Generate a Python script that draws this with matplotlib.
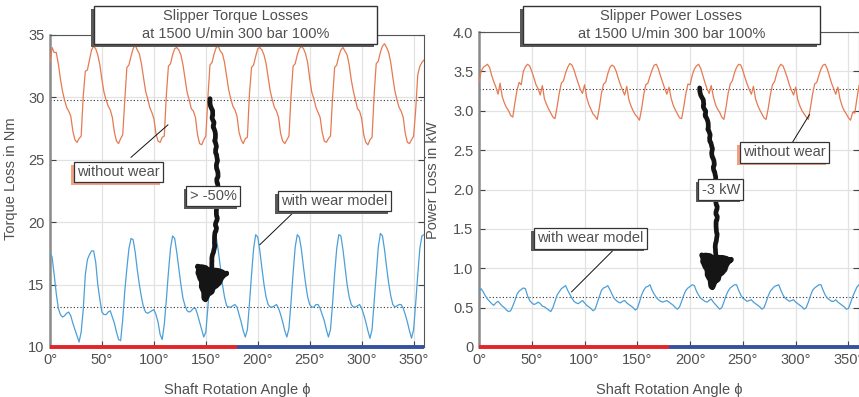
import numpy as np
import matplotlib.pyplot as plt
import matplotlib.patheffects as pe
from matplotlib.patches import Rectangle, FancyArrowPatch

plt.rcParams['font.family'] = ['Liberation Sans', 'DejaVu Sans']

# shaft angle in degrees, one sample every 2 deg
angle = np.arange(0, 361, 2)

torque_without_wear = [
    32.8, 34.0, 33.6, 33.6, 32.7, 31.5, 30.5, 29.8, 29.2, 28.9, 28.5, 27.3, 26.6, 26.4, 26.7, 26.9, 30.1, 32.1, 32.2, 33.0,
    33.8, 34.1, 33.9, 33.4, 32.6, 31.4, 30.4, 29.8, 29.3, 29.0, 28.4, 27.2, 26.5, 26.3, 26.7, 27.0, 29.8, 32.4, 32.6, 33.3,
    33.9, 34.2, 33.8, 33.5, 32.7, 31.6, 30.5, 29.9, 29.2, 28.8, 28.3, 27.1, 26.5, 26.4, 26.8, 26.9, 30.2, 32.5, 32.7, 33.4,
    33.9, 34.0, 33.8, 33.4, 32.6, 31.5, 30.4, 29.8, 29.1, 28.9, 28.4, 27.0, 26.3, 26.2, 26.6, 26.9, 30.0, 32.6, 32.8, 33.5,
    34.0, 34.1, 33.7, 33.5, 32.8, 31.7, 30.6, 29.9, 29.3, 29.0, 28.5, 27.2, 26.6, 26.3, 26.7, 26.8, 30.3, 32.4, 32.6, 33.3,
    33.9, 34.0, 33.8, 33.4, 32.7, 31.6, 30.5, 29.8, 29.2, 28.9, 28.4, 27.1, 26.5, 26.3, 26.6, 26.9, 30.1, 32.5, 32.7, 33.4,
    33.9, 34.1, 33.9, 33.5, 32.8, 31.5, 30.4, 29.9, 29.2, 28.8, 28.4, 27.2, 26.5, 26.4, 26.7, 26.9, 30.0, 32.4, 32.6, 33.3,
    33.8, 34.0, 33.7, 33.4, 32.6, 31.4, 30.5, 29.8, 29.1, 28.9, 28.3, 27.0, 26.4, 26.2, 26.6, 26.8, 30.2, 32.7, 32.9, 33.6,
    34.1, 34.3, 34.0, 33.6, 32.8, 31.6, 30.5, 29.8, 29.2, 28.9, 28.4, 27.1, 26.4, 26.3, 26.6, 26.9, 29.0, 31.8, 32.5, 32.8,
    33.0]

torque_with_wear = [
    17.6, 17.2, 15.8, 14.3, 13.1, 12.6, 12.4, 12.5, 12.7, 12.8, 12.5, 11.9, 11.4, 10.9, 10.4, 11.2, 13.0, 15.8, 17.0, 17.4,
    17.7, 17.7, 16.8, 15.0, 13.8, 12.8, 12.6, 12.6, 12.8, 12.9, 12.4, 11.9, 11.2, 10.6, 10.5, 12.2, 14.5, 16.3, 17.9, 18.7,
    18.6, 17.6, 16.2, 15.0, 14.0, 13.2, 12.8, 12.7, 12.8, 12.9, 13.0, 12.6, 12.0, 11.0, 10.6, 11.8, 13.8, 16.0, 17.9, 18.9,
    18.7, 17.6, 16.3, 15.0, 13.9, 13.3, 12.9, 12.8, 12.9, 13.1, 13.1, 12.6, 12.0, 11.4, 10.8, 11.2, 13.2, 15.6, 17.6, 19.0,
    18.8, 17.7, 16.4, 15.0, 14.0, 13.3, 13.2, 13.2, 13.3, 13.4, 13.2, 12.6, 12.0, 11.3, 10.8, 11.4, 13.5, 15.8, 17.9, 19.0,
    18.8, 17.7, 16.3, 15.0, 14.0, 13.4, 13.2, 13.2, 13.3, 13.4, 13.1, 12.6, 12.0, 11.3, 10.8, 11.5, 13.6, 15.9, 18.0, 19.0,
    18.8, 17.8, 16.4, 15.1, 14.0, 13.4, 13.2, 13.2, 13.4, 13.4, 13.1, 12.6, 12.1, 11.4, 10.8, 11.4, 13.5, 15.9, 17.9, 19.0,
    18.9, 17.8, 16.4, 15.0, 14.0, 13.4, 13.2, 13.2, 13.3, 13.4, 13.1, 12.6, 12.0, 11.3, 10.7, 11.4, 13.6, 15.9, 18.0, 19.1,
    18.9, 17.8, 16.4, 15.1, 14.1, 13.4, 13.2, 13.3, 13.4, 13.4, 13.1, 12.6, 12.0, 11.3, 10.7, 11.4, 13.5, 15.8, 17.9, 18.9,
    19.0]

power_without_wear = [
    3.37, 3.50, 3.55, 3.57, 3.59, 3.55, 3.45, 3.37, 3.30, 3.21, 3.35, 3.18, 3.10, 3.04, 3.00, 2.94, 2.92, 3.10, 3.26, 3.36,
    3.33, 3.50, 3.56, 3.59, 3.57, 3.50, 3.42, 3.33, 3.28, 3.20, 3.32, 3.15, 3.08, 3.02, 2.97, 2.92, 2.90, 3.05, 3.22, 3.35,
    3.38, 3.48, 3.55, 3.60, 3.58, 3.52, 3.43, 3.35, 3.27, 3.22, 3.33, 3.17, 3.08, 3.02, 2.96, 2.93, 2.89, 3.04, 3.22, 3.34,
    3.36, 3.47, 3.55, 3.58, 3.56, 3.50, 3.41, 3.33, 3.26, 3.20, 3.31, 3.14, 3.06, 3.00, 2.95, 2.92, 2.88, 3.02, 3.20, 3.33,
    3.35, 3.44, 3.52, 3.58, 3.59, 3.53, 3.44, 3.36, 3.28, 3.21, 3.30, 3.16, 3.07, 3.01, 2.96, 2.91, 2.90, 3.05, 3.22, 3.34,
    3.33, 3.45, 3.53, 3.57, 3.59, 3.54, 3.45, 3.36, 3.28, 3.22, 3.32, 3.18, 3.08, 3.02, 2.98, 2.92, 2.89, 3.04, 3.22, 3.34,
    3.38, 3.48, 3.55, 3.59, 3.58, 3.51, 3.42, 3.34, 3.27, 3.21, 3.31, 3.15, 3.07, 3.01, 2.96, 2.91, 2.89, 3.03, 3.20, 3.33,
    3.37, 3.47, 3.55, 3.59, 3.57, 3.50, 3.42, 3.33, 3.26, 3.20, 3.30, 3.14, 3.06, 3.00, 2.96, 2.92, 2.89, 3.04, 3.21, 3.34,
    3.36, 3.45, 3.53, 3.58, 3.59, 3.53, 3.44, 3.35, 3.28, 3.21, 3.30, 3.15, 3.06, 3.00, 2.96, 2.91, 2.88, 2.98, 2.97, 3.15,
    3.32]

power_with_wear = [
    0.71, 0.74, 0.70, 0.65, 0.61, 0.58, 0.55, 0.53, 0.56, 0.58, 0.55, 0.52, 0.50, 0.47, 0.45, 0.46, 0.52, 0.59, 0.67, 0.71,
    0.73, 0.75, 0.74, 0.65, 0.59, 0.56, 0.54, 0.55, 0.57, 0.55, 0.52, 0.51, 0.49, 0.47, 0.45, 0.50, 0.58, 0.66, 0.70, 0.74,
    0.76, 0.78, 0.72, 0.67, 0.62, 0.58, 0.56, 0.55, 0.57, 0.59, 0.56, 0.53, 0.51, 0.49, 0.46, 0.48, 0.56, 0.64, 0.72, 0.75,
    0.76, 0.78, 0.73, 0.67, 0.62, 0.59, 0.57, 0.56, 0.58, 0.59, 0.56, 0.54, 0.52, 0.50, 0.47, 0.49, 0.57, 0.66, 0.72, 0.76,
    0.77, 0.79, 0.72, 0.67, 0.63, 0.60, 0.58, 0.57, 0.58, 0.59, 0.57, 0.55, 0.53, 0.50, 0.48, 0.51, 0.58, 0.66, 0.72, 0.75,
    0.77, 0.79, 0.78, 0.71, 0.66, 0.62, 0.60, 0.58, 0.57, 0.59, 0.61, 0.57, 0.54, 0.51, 0.48, 0.50, 0.57, 0.65, 0.71, 0.75,
    0.77, 0.79, 0.79, 0.72, 0.66, 0.62, 0.60, 0.58, 0.59, 0.60, 0.57, 0.55, 0.53, 0.51, 0.48, 0.50, 0.57, 0.65, 0.71, 0.74,
    0.77, 0.78, 0.79, 0.72, 0.66, 0.62, 0.60, 0.58, 0.59, 0.60, 0.57, 0.55, 0.53, 0.51, 0.48, 0.50, 0.57, 0.65, 0.72, 0.75,
    0.77, 0.79, 0.79, 0.72, 0.66, 0.62, 0.60, 0.58, 0.58, 0.60, 0.57, 0.55, 0.53, 0.51, 0.48, 0.49, 0.56, 0.64, 0.70, 0.76,
    0.79]

# dotted average levels
torque_mean_without = 29.8
torque_mean_with = 13.2
power_mean_without = 3.28
power_mean_with = 0.64

x_ticks = [0, 50, 100, 150, 200, 250, 300, 350]
torque_ticks = [10, 15, 20, 25, 30, 35]
power_ticks = [0, 0.5, 1.0, 1.5, 2.0, 2.5, 3.0, 3.5, 4.0]

c_orange = '#e67a52'
c_blue = '#4d9fd8'
c_red = '#e32428'
c_navy = '#3452a0'
c_text = '#505050'
c_shadow = '#5a5a5a'
c_orange_shadow = '#f2a184'

fig = plt.figure(figsize=(8.59, 3.97), dpi=100)
ax1 = fig.add_axes([50/859, 50/397, 374/859, 312/397])
ax2 = fig.add_axes([479/859, 50/397, 380/859, 315/397])


def style_axes(ax, yticks, ylim, ylabel, ylab_pos, fmt):
    ax.set_xlim(0, 360)
    ax.set_ylim(*ylim)
    ax.set_xticks(x_ticks)
    ax.set_xticklabels([f'{v}°' for v in x_ticks])
    ax.set_yticks(yticks)
    ax.set_yticklabels([fmt(v) for v in yticks])
    ax.grid(True, color='#e2e2e2', lw=0.9)
    ax.set_axisbelow(True)
    ax.tick_params(direction='in', length=4, width=0.8, colors='#444',
                   labelcolor=c_text, labelsize=10.5, right=True, pad=4)
    for s in ['top', 'right', 'bottom']:
        ax.spines[s].set_color('#555')
        ax.spines[s].set_linewidth(0.8)
    ax.spines['left'].set_color('#8a8a8a')
    ax.spines['left'].set_linewidth(1.8)
    ax.set_xlabel('Shaft Rotation Angle ϕ', fontsize=10.5, color=c_text, labelpad=12)
    ax.set_ylabel(ylabel, fontsize=10.5, color=c_text)
    ax.yaxis.set_label_coords(*ylab_pos)
    # red / blue half-turn bar on the x axis
    ax.plot([0, 180], [ylim[0], ylim[0]], color=c_red, lw=2.8, solid_capstyle='butt',
            clip_on=False, zorder=6)
    ax.plot([180, 360], [ylim[0], ylim[0]], color=c_navy, lw=2.8, solid_capstyle='butt',
            clip_on=False, zorder=6)


def label_box(ax, x, y, txt, shadow):
    t = ax.text(x, y, txt, ha='center', va='center', fontsize=10.5, color=c_text, zorder=8,
                bbox=dict(boxstyle='square,pad=0.22', fc='white', ec='#333', lw=0.9))
    t.get_bbox_patch().set_path_effects([
        pe.SimplePatchShadow(offset=(-2, -2), shadow_rgbFace=shadow, alpha=1), pe.Normal()])
    return t


def leader(ax, p0, p1):
    ax.plot([p0[0], p1[0]], [p0[1], p1[1]], color='#111', lw=0.7, zorder=7)


def sketch_arrow(ax, start, end):
    arr = FancyArrowPatch(start, end, arrowstyle='-|>,head_length=2.2,head_width=1.1',
                          mutation_scale=10, connectionstyle='arc3,rad=-0.1',
                          lw=3.4, color='#151515', shrinkA=0, shrinkB=0, zorder=5)
    arr.set_sketch_params(scale=0.7, length=18, randomness=4)
    ax.add_patch(arr)


def title_box(x0, x1, txt):
    r = Rectangle((x0/859, 1-44/397), (x1-x0)/859, 38/397, transform=fig.transFigure,
                  fc='white', ec='#333', lw=1.0, zorder=10)
    r.set_path_effects([pe.SimplePatchShadow(offset=(-2.5, -2.5), shadow_rgbFace=c_shadow, alpha=1),
                        pe.Normal()])
    fig.patches.append(r)
    fig.text((x0+x1)/2/859, 1-25/397, txt, ha='center', va='center', fontsize=10.5,
             color=c_text, linespacing=1.3, zorder=11)


# torque panel
style_axes(ax1, torque_ticks, (10, 35), 'Torque Loss in Nm', (-0.086, 0.54), lambda v: f'{v}')
ax1.plot(angle, torque_without_wear, color=c_orange, lw=0.9, zorder=3)
ax1.plot(angle, torque_with_wear, color=c_blue, lw=0.9, zorder=3)
ax1.axhline(torque_mean_without, color='#333', lw=0.8, ls=(0, (1, 2)), zorder=2)
ax1.axhline(torque_mean_with, color='#333', lw=0.8, ls=(0, (1, 2)), zorder=2)
sketch_arrow(ax1, (154, 29.9), (148, 13.4))
leader(ax1, (78, 25.2), (113.5, 27.8))
label_box(ax1, 65.5, 24.0, 'without wear', c_orange_shadow)
label_box(ax1, 157, 22.1, '> -50%', c_shadow)
leader(ax1, (237, 21.0), (202, 18.2))
label_box(ax1, 274, 21.7, 'with wear model', c_shadow)

# power panel
style_axes(ax2, power_ticks, (0, 4), 'Power Loss in kW', (-0.103, 0.53),
           lambda v: '0' if v == 0 else f'{v:.1f}')
ax2.plot(angle, power_without_wear, color=c_orange, lw=0.9, zorder=3)
ax2.plot(angle, power_with_wear, color=c_blue, lw=0.9, zorder=3)
ax2.axhline(power_mean_without, color='#333', lw=0.8, ls=(0, (1, 2)), zorder=2)
ax2.axhline(power_mean_with, color='#333', lw=0.8, ls=(0, (1, 2)), zorder=2)
sketch_arrow(ax2, (209, 3.29), (220, 0.69))
leader(ax2, (297, 2.6), (313, 2.95))
label_box(ax2, 289.5, 2.47, 'without wear', c_orange_shadow)
label_box(ax2, 229, 2.0, '-3 kW', c_shadow)
leader(ax2, (128, 1.24), (87.7, 0.70))
label_box(ax2, 105.5, 1.38, 'with wear model', c_shadow)

title_box(94, 377, 'Slipper Torque Losses\nat 1500 U/min 300 bar 100%')
title_box(523, 820, 'Slipper Power Losses\nat 1500 U/min 300 bar 100%')

fig.savefig('out.png', dpi=100)
